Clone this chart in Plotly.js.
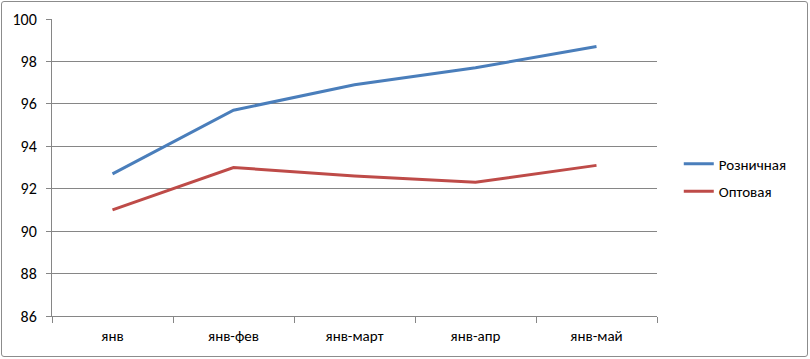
<!DOCTYPE html>
<html>
<head>
<meta charset="utf-8">
<script src="https://cdn.plot.ly/plotly-3.0.1.min.js"></script>
<style>
  html, body { margin: 0; padding: 0; background: #fff; }
  #wrap { position: relative; width: 810px; height: 359px; }
  #chart { width: 810px; height: 359px; }
  #frame { position: absolute; left: 1px; top: 1px; width: 805px; height: 354px;
           border: 1px solid #8c8c8c; border-radius: 3px; pointer-events: none; }
</style>
</head>
<body>
<div id="wrap">
  <div id="chart"></div>
  <div id="frame"></div>
</div>
<script>
const categories = ["янв", "янв-фев", "янв-март", "янв-апр", "янв-май"];
const retail = [92.7, 95.7, 96.9, 97.7, 98.7];
const wholesale = [91.0, 93.0, 92.6, 92.3, 93.1];
const seriesNames = ["Розничная", "Оптовая"];
const yTicks = [86, 88, 90, 92, 94, 96, 98, 100];

const font = "Carlito, 'Liberation Sans Narrow', 'Open Sans', sans-serif";

const traces = [
  { x: categories, y: retail, name: seriesNames[0], type: "scatter", mode: "lines",
    line: { color: "#4A7EBB", width: 3 }, legendgroup: "a" },
  { x: categories, y: wholesale, name: seriesNames[1], type: "scatter", mode: "lines",
    line: { color: "#BE4B48", width: 3 }, legendgroup: "b" }
];

const layout = {
  width: 810, height: 359,
  margin: { l: 52, r: 153, t: 19, b: 43, pad: 0 },
  paper_bgcolor: "#ffffff", plot_bgcolor: "#ffffff",
  font: { family: font, size: 14, color: "#000" },
  showlegend: true,
  legend: { x: 1.036, xanchor: "left", y: 0.567, yanchor: "top",
            font: { family: font, size: 15, color: "#000" },
            traceorder: "grouped", tracegroupgap: 5, bgcolor: "rgba(0,0,0,0)" },
  xaxis: {
    type: "category", tickson: "boundaries", ticks: "outside", ticklen: 6,
    tickcolor: "#868686", showline: true, linecolor: "#868686", linewidth: 1,
    showgrid: false, zeroline: false, range: [-0.5, 4.5],
    tickfont: { family: font, size: 15 }, ticklabelstandoff: 6, fixedrange: true
  },
  yaxis: {
    range: [86, 100], tickvals: yTicks, ticktext: yTicks.map(String),
    ticks: "outside", ticklen: 5, tickcolor: "#868686",
    showline: true, linecolor: "#868686", linewidth: 1,
    showgrid: true, gridcolor: "#868686", gridwidth: 1, zeroline: false,
    tickfont: { family: font, size: 16 }, ticklabelstandoff: 6, fixedrange: true
  }
};

Plotly.newPlot("chart", traces, layout, { displayModeBar: false, staticPlot: true });
</script>
</body>
</html>
